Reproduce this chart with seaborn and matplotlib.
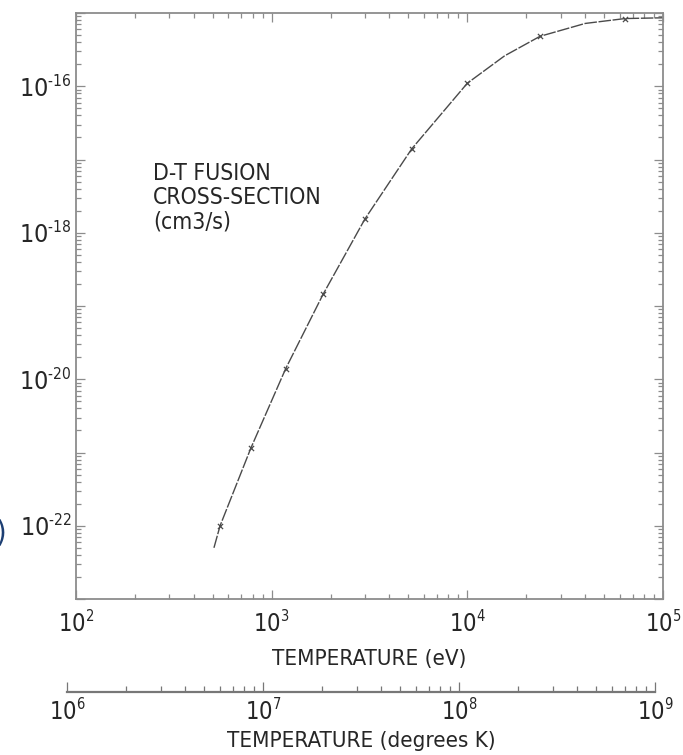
import numpy as np
import pandas as pd
import seaborn as sns
import matplotlib
matplotlib.use("Agg")
import matplotlib.pyplot as plt
from matplotlib import font_manager
from matplotlib.ticker import FixedLocator, FuncFormatter, NullFormatter

# ---------------- data ----------------
curve_ev = [507, 545, 783, 1180, 1830, 3000, 5200, 10000, 15500, 23500, 40000, 64000, 100000]
curve_rate = [5.0e-23, 1.0e-22, 1.15e-21, 1.4e-20, 1.44e-19, 1.55e-18, 1.4e-17,
              1.1e-16, 2.6e-16, 4.8e-16, 7.2e-16, 8.4e-16, 8.6e-16]
marker_ev = [545, 783, 1180, 1830, 3000, 5200, 10000, 23500, 64000]
marker_rate = [1.0e-22, 1.15e-21, 1.4e-20, 1.44e-19, 1.55e-18, 1.4e-17, 1.1e-16, 4.8e-16, 8.4e-16]

x_exponents = [2, 3, 4, 5]
y_exponents = [-23, -22, -21, -20, -19, -18, -17, -16, -15]
y_labeled = [-22, -20, -18, -16]
k_exponents = [6, 7, 8, 9]
annotation_lines = ["D-T FUSION", "CROSS-SECTION", "(cm3/s)"]
xlabel_ev = "TEMPERATURE (eV)"
xlabel_k = "TEMPERATURE (degrees K)"

# ---------------- style ----------------
sns.set_theme(style="white")
entries = font_manager.fontManager.ttflist
names = {f.name for f in entries}
fam, stretch = "Liberation Sans", "normal"
if "Liberation Sans Narrow" in names:
    fam, stretch = "Liberation Sans Narrow", "normal"
elif any(f.name == "DejaVu Sans" and str(f.stretch) in ("condensed", "semi-condensed")
         for f in entries):
    fam, stretch = "DejaVu Sans", "condensed"
elif "Roboto Condensed" in names:
    fam, stretch = "Roboto Condensed", "normal"
plt.rcParams["font.family"] = [fam, "DejaVu Sans"]
plt.rcParams["font.stretch"] = stretch
plt.rcParams["mathtext.fontset"] = "custom"
pat = fam if stretch == "normal" else f"{fam}:stretch={stretch}"
plt.rcParams["mathtext.rm"] = pat
plt.rcParams["mathtext.it"] = pat
plt.rcParams["mathtext.bf"] = pat
try:
    import matplotlib._mathtext as _mt
    _mt.SHRINK_FACTOR = 0.62
except Exception:
    pass

text_col = "#262626"
spine_col = "#8c8c8c"

def decades(exps):
    return [10.0 ** e for e in exps]

def minors(exps):
    return [m * 10.0 ** e for e in exps[:-1] for m in range(2, 10)]

W, H = 683, 755
fig = plt.figure(figsize=(W / 100, H / 100), dpi=100)
ax = fig.add_axes([76 / W, 1 - 599 / H, (663 - 76) / W, (599 - 13) / H])
ax.set_xscale("log")
ax.set_yscale("log")

df_curve = pd.DataFrame({"ev": curve_ev, "rate": curve_rate})
df_mark = pd.DataFrame({"ev": marker_ev, "rate": marker_rate})
sns.lineplot(data=df_curve, x="ev", y="rate", ax=ax, color="#4a4a4a",
             linewidth=1.0, linestyle=(0, (9, 1.2)), sort=False)
sns.scatterplot(data=df_mark, x="ev", y="rate", ax=ax, marker="x", s=14,
                color="#4a4a4a", linewidth=0.9, zorder=3)

ax.set_xlim(10.0 ** x_exponents[0], 10.0 ** x_exponents[-1])
ax.set_ylim(10.0 ** y_exponents[0], 10.0 ** y_exponents[-1])

for sp in ax.spines.values():
    sp.set_color(spine_col)
    sp.set_linewidth(1.3)

HYPH = "\u2010"

def exp_label(e):
    if e < 0:
        return "$10^{" + HYPH + str(-e) + "}$"
    return "$10^{" + str(e) + "}$"

def exp_fmt(v, pos):
    return exp_label(int(round(np.log10(v))))

def exp_fmt_y(v, pos):
    e = int(round(np.log10(v)))
    return exp_label(e) if e in y_labeled else ""

ax.xaxis.set_major_locator(FixedLocator(decades(x_exponents)))
ax.xaxis.set_minor_locator(FixedLocator(minors(x_exponents)))
ax.xaxis.set_major_formatter(FuncFormatter(exp_fmt))
ax.xaxis.set_minor_formatter(NullFormatter())
ax.yaxis.set_major_locator(FixedLocator(decades(y_exponents)))
ax.yaxis.set_minor_locator(FixedLocator(minors(y_exponents)))
ax.yaxis.set_major_formatter(FuncFormatter(exp_fmt_y))
ax.yaxis.set_minor_formatter(NullFormatter())

ax.tick_params(which="both", direction="in", bottom=True, left=True, top=True, right=True,
               color=spine_col, width=0.9, labelcolor=text_col)
ax.tick_params(which="major", length=6.5)
ax.tick_params(which="minor", length=3.6)
ax.tick_params(axis="x", which="major", labelsize=17, pad=8)
ax.tick_params(axis="y", which="major", labelsize=18, pad=3)

ax.set_xlabel(xlabel_ev, fontsize=16, color=text_col, labelpad=9)
ax.set_ylabel("")

for line, ypix in zip(annotation_lines, [173, 198, 222]):
    fig.text(153 / W, 1 - ypix / H, line, fontsize=16.5, color=text_col,
             va="center", ha="left")

# ---------------- second axis (degrees K) ----------------
axk = fig.add_axes([67 / W, 1 - 692 / H, (655 - 67) / W, 0.0001])
axk.set_xscale("log")
axk.set_xlim(10.0 ** k_exponents[0], 10.0 ** k_exponents[-1])
axk.set_yticks([])
for s in ["top", "left", "right"]:
    axk.spines[s].set_visible(False)
axk.spines["bottom"].set_color("#777777")
axk.spines["bottom"].set_linewidth(1.6)
axk.patch.set_alpha(0)
axk.xaxis.set_major_locator(FixedLocator(decades(k_exponents)))
axk.xaxis.set_minor_locator(FixedLocator(minors(k_exponents)))
axk.xaxis.set_major_formatter(FuncFormatter(exp_fmt))
axk.xaxis.set_minor_formatter(NullFormatter())
axk.tick_params(which="both", direction="in", bottom=True, color="#777777", width=0.9,
                labelcolor=text_col, labelsize=17, pad=5)
axk.tick_params(which="major", length=7)
axk.tick_params(which="minor", length=4)
axk.set_xlabel(xlabel_k, fontsize=16, color=text_col, labelpad=4)

# clipped glyph at left edge of the source image
fig.text(-4 / W, 1 - 533 / H, ")", fontsize=22, color="#1d3f73", va="center", ha="left")

fig.savefig("out.png", dpi=100)
